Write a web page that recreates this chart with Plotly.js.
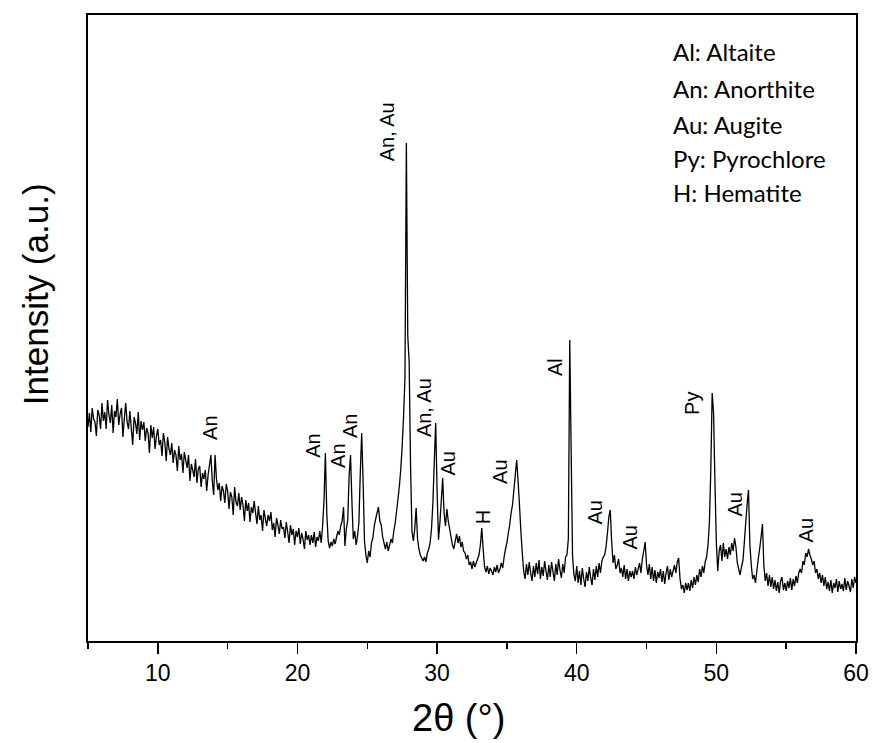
<!DOCTYPE html>
<html>
<head>
<meta charset="utf-8">
<script src="https://cdn.plot.ly/plotly-3.0.1.min.js"></script>
<style>html,body{margin:0;padding:0;background:#fff;}#chart{width:873px;height:743px;}</style>
</head>
<body>
<div id="chart"></div>
<script>
// 2θ sampling positions (degrees)
const twoTheta = [
5.0,5.1,5.2,5.3,5.4,5.5,5.6,5.7,5.8,5.9,
6.0,6.1,6.2,6.3,6.4,6.5,6.6,6.7,6.8,6.9,
7.0,7.1,7.2,7.3,7.4,7.5,7.6,7.7,7.8,7.9,
8.0,8.1,8.2,8.3,8.4,8.5,8.6,8.7,8.8,8.9,
9.0,9.1,9.2,9.3,9.4,9.5,9.6,9.7,9.8,9.9,
10.0,10.1,10.2,10.3,10.4,10.5,10.6,10.7,10.8,10.9,
11.0,11.1,11.2,11.3,11.4,11.5,11.6,11.7,11.8,11.9,
12.0,12.1,12.2,12.3,12.4,12.5,12.6,12.7,12.8,12.9,
13.0,13.1,13.2,13.3,13.4,13.5,13.6,13.7,13.8,13.9,
14.0,14.1,14.2,14.3,14.4,14.5,14.6,14.7,14.8,14.9,
15.0,15.1,15.2,15.3,15.4,15.5,15.6,15.7,15.8,15.9,
16.0,16.1,16.2,16.3,16.4,16.5,16.6,16.7,16.8,16.9,
17.0,17.1,17.2,17.3,17.4,17.5,17.6,17.7,17.8,17.9,
18.0,18.1,18.2,18.3,18.4,18.5,18.6,18.7,18.8,18.9,
19.0,19.1,19.2,19.3,19.4,19.5,19.6,19.7,19.8,19.9,
20.0,20.1,20.2,20.3,20.4,20.5,20.6,20.7,20.8,20.9,
21.0,21.1,21.2,21.3,21.4,21.5,21.6,21.7,21.8,21.9,
22.0,22.1,22.2,22.3,22.4,22.5,22.6,22.7,22.8,22.9,
23.0,23.1,23.2,23.3,23.4,23.5,23.6,23.7,23.8,23.9,
24.0,24.1,24.2,24.3,24.4,24.5,24.6,24.7,24.8,24.9,
25.0,25.1,25.2,25.3,25.4,25.5,25.6,25.7,25.8,25.9,
26.0,26.1,26.2,26.3,26.4,26.5,26.6,26.7,26.8,26.9,
27.0,27.1,27.2,27.3,27.4,27.5,27.6,27.7,27.8,27.9,
28.0,28.1,28.2,28.3,28.4,28.5,28.6,28.7,28.8,28.9,
29.0,29.1,29.2,29.3,29.4,29.5,29.6,29.7,29.8,29.9,
30.0,30.1,30.2,30.3,30.4,30.5,30.6,30.7,30.8,30.9,
31.0,31.1,31.2,31.3,31.4,31.5,31.6,31.7,31.8,31.9,
32.0,32.1,32.2,32.3,32.4,32.5,32.6,32.7,32.8,32.9,
33.0,33.1,33.2,33.3,33.4,33.5,33.6,33.7,33.8,33.9,
34.0,34.1,34.2,34.3,34.4,34.5,34.6,34.7,34.8,34.9,
35.0,35.1,35.2,35.3,35.4,35.5,35.6,35.7,35.8,35.9,
36.0,36.1,36.2,36.3,36.4,36.5,36.6,36.7,36.8,36.9,
37.0,37.1,37.2,37.3,37.4,37.5,37.6,37.7,37.8,37.9,
38.0,38.1,38.2,38.3,38.4,38.5,38.6,38.7,38.8,38.9,
39.0,39.1,39.2,39.3,39.4,39.5,39.6,39.7,39.8,39.9,
40.0,40.1,40.2,40.3,40.4,40.5,40.6,40.7,40.8,40.9,
41.0,41.1,41.2,41.3,41.4,41.5,41.6,41.7,41.8,41.9,
42.0,42.1,42.2,42.3,42.4,42.5,42.6,42.7,42.8,42.9,
43.0,43.1,43.2,43.3,43.4,43.5,43.6,43.7,43.8,43.9,
44.0,44.1,44.2,44.3,44.4,44.5,44.6,44.7,44.8,44.9,
45.0,45.1,45.2,45.3,45.4,45.5,45.6,45.7,45.8,45.9,
46.0,46.1,46.2,46.3,46.4,46.5,46.6,46.7,46.8,46.9,
47.0,47.1,47.2,47.3,47.4,47.5,47.6,47.7,47.8,47.9,
48.0,48.1,48.2,48.3,48.4,48.5,48.6,48.7,48.8,48.9,
49.0,49.1,49.2,49.3,49.4,49.5,49.6,49.7,49.8,49.9,
50.0,50.1,50.2,50.3,50.4,50.5,50.6,50.7,50.8,50.9,
51.0,51.1,51.2,51.3,51.4,51.5,51.6,51.7,51.8,51.9,
52.0,52.1,52.2,52.3,52.4,52.5,52.6,52.7,52.8,52.9,
53.0,53.1,53.2,53.3,53.4,53.5,53.6,53.7,53.8,53.9,
54.0,54.1,54.2,54.3,54.4,54.5,54.6,54.7,54.8,54.9,
55.0,55.1,55.2,55.3,55.4,55.5,55.6,55.7,55.8,55.9,
56.0,56.1,56.2,56.3,56.4,56.5,56.6,56.7,56.8,56.9,
57.0,57.1,57.2,57.3,57.4,57.5,57.6,57.7,57.8,57.9,
58.0,58.1,58.2,58.3,58.4,58.5,58.6,58.7,58.8,58.9,
59.0,59.1,59.2,59.3,59.4,59.5,59.6,59.7,59.8,59.9,
60.0
];

// Intensity (a.u.)
const intensity = [
214,228,209,233,222,219,205,231,226,212,
238,220,229,212,241,226,218,236,208,230,
224,242,216,227,233,204,222,238,219,212,
230,213,196,224,218,207,229,201,220,211,
219,200,213,208,188,216,203,214,192,205,
212,196,201,185,208,199,180,204,192,186,
198,178,191,186,170,195,181,187,168,189,
181,173,186,160,177,171,164,182,158,172,
175,154,168,162,171,150,166,176,186,160,
146,186,162,151,158,140,155,150,138,157,
150,132,149,144,126,154,139,135,148,131,
144,136,120,141,130,138,119,134,128,140,
128,117,135,121,126,110,131,122,115,126,
120,129,111,118,104,123,116,107,121,112,
114,103,119,109,98,116,106,112,96,110,
104,113,97,108,102,92,110,101,106,96,
106,98,109,94,104,100,110,98,115,140,
188,128,100,93,99,95,102,97,104,110,
106,115,120,134,95,112,121,165,186,140,
102,110,96,105,118,168,208,160,100,86,
78,90,84,98,103,115,122,128,134,120,
116,104,98,92,99,90,96,102,98,110,
118,130,142,155,172,195,225,263,498,305,
279,175,110,100,112,133,102,92,86,83,
80,84,79,88,92,98,112,138,180,218,
150,101,118,140,163,128,115,132,120,112,
104,96,92,100,107,98,105,94,99,90,
88,82,86,76,79,72,80,74,78,82,
86,96,113,92,74,69,75,67,73,70,
66,74,69,76,68,72,78,73,84,92,
98,108,116,128,136,151,166,181,160,136,
110,88,70,62,77,66,79,68,60,75,
64,78,67,81,62,74,65,80,70,61,
76,64,79,69,60,77,66,82,71,63,
77,68,84,86,102,301,191,85,66,60,
75,58,70,56,73,62,54,69,60,74,
63,56,72,61,75,64,78,68,80,84,
86,94,108,124,131,100,78,86,72,76,
82,68,73,64,76,62,72,60,70,64,
70,62,74,66,72,78,68,82,90,99,
76,66,77,62,74,60,71,58,69,63,
72,59,70,57,68,75,61,72,64,70,
76,68,79,83,62,52,56,48,58,51,
58,50,61,53,64,56,66,59,72,64,
75,68,79,84,96,118,170,248,228,158,
98,70,90,96,80,98,84,92,82,94,
86,98,90,103,94,78,72,66,74,80,
98,118,136,151,96,76,62,66,58,70,
82,92,104,117,76,60,68,55,66,54,
64,52,61,50,59,48,60,64,51,58,
50,60,53,63,51,62,55,65,58,68,
72,68,80,76,88,84,92,86,82,76,
80,68,72,62,68,58,66,55,64,52,
59,50,61,48,58,53,62,49,60,52,
57,50,63,51,60,55,49,62,53,64,
58
];

// Phase labels placed over peaks
const peakLabels = ["An","An","An","An","An, Au","An, Au","Au","H","Au","Al","Au","Au","Py","Au","Au"];
const peakLabelX = [13.73,21.1,22.9,23.77,26.43,29.07,30.75,33.3,34.5,38.45,41.28,43.85,48.25,51.3,56.45];
const peakLabelY = [213,195,185,215,509,233,177,124,169,274,128,104,238,136,111];

// Key of abbreviations
const keyLines = ["Al: Altaite","An: Anorthite","Au: Augite","Py: Pyrochlore","H: Hematite"];
const keyY = [590,553,517,483,449];
const keyX = 46.73;

const xTickVals = [10,20,30,40,50,60];
const xTitle = '2θ (°)';
const yTitle = 'Intensity (a.u.)';

const annotations = [];
for (let i = 0; i < peakLabels.length; i++) {
  annotations.push({
    x: peakLabelX[i], y: peakLabelY[i], xref: 'x', yref: 'y',
    text: peakLabels[i], showarrow: false, textangle: -90,
    xanchor: 'center', yanchor: 'middle',
    font: {family: 'Liberation Sans, Arial, sans-serif', size: 20, color: '#000'}
  });
}
for (let i = 0; i < keyLines.length; i++) {
  annotations.push({
    x: keyX, y: keyY[i], xref: 'x', yref: 'y',
    text: keyLines[i], showarrow: false,
    xanchor: 'left', yanchor: 'middle',
    font: {family: 'Lato, Carlito, Calibri, sans-serif', size: 24, color: '#000'}
  });
}
// axis titles
annotations.push({
  x: 0.482, y: -0.123, xref: 'paper', yref: 'paper', text: xTitle, showarrow: false,
  xanchor: 'center', yanchor: 'middle',
  font: {family: 'Liberation Sans, Arial, sans-serif', size: 38, color: '#000'}
});
annotations.push({
  x: -0.069, y: 0.554, xref: 'paper', yref: 'paper', text: yTitle, showarrow: false,
  textangle: -90, xanchor: 'center', yanchor: 'middle',
  font: {family: 'Liberation Sans, Arial, sans-serif', size: 35, color: '#000'}
});

const trace = {
  x: twoTheta, y: intensity, type: 'scatter', mode: 'lines',
  line: {color: '#000', width: 1.3, simplify: false}, hoverinfo: 'skip'
};

const layout = {
  width: 873, height: 743,
  margin: {l: 88, r: 17, t: 15, b: 102},
  paper_bgcolor: '#fff', plot_bgcolor: '#fff',
  showlegend: false,
  xaxis: {
    range: [5, 60], tickvals: xTickVals, ticktext: xTickVals.map(String),
    ticks: 'outside', ticklen: 11, tickwidth: 1.5, tickcolor: '#000',
    minor: {dtick: 5, tick0: 5, ticks: 'outside', ticklen: 6, tickwidth: 1.5, tickcolor: '#000'},
    showline: true, linecolor: '#000', linewidth: 1.8, mirror: true,
    showgrid: false, zeroline: false,
    tickfont: {family: 'Liberation Sans, Arial, sans-serif', size: 23, color: '#000'}
  },
  yaxis: {
    range: [0, 626], showticklabels: false, ticks: '',
    showline: true, linecolor: '#000', linewidth: 1.8, mirror: true,
    showgrid: false, zeroline: false
  },
  annotations: annotations
};

Plotly.newPlot('chart', [trace], layout, {displayModeBar: false, staticPlot: true});
</script>
</body>
</html>
